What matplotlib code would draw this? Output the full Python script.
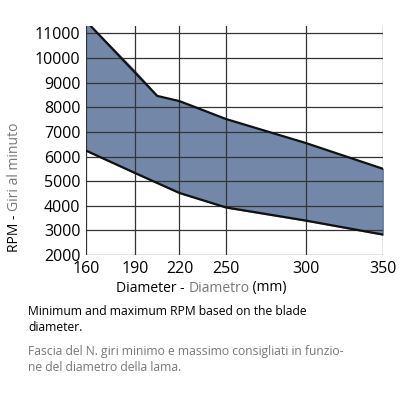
import matplotlib
matplotlib.use('Agg')
import matplotlib.pyplot as plt
import numpy as np

plt.rcParams['font.family'] = ['Open Sans', 'DejaVu Sans']

# tick values and where they sit on the (non-linear) axis
x_ticks = [160, 190, 220, 250, 300, 350]
x_tick_pos = [258, 405, 538, 678, 916, 1148]

upper_d = [160, 205, 220, 250, 300, 350]
upper_rpm = [11500, 8460, 8250, 7520, 6550, 5500]
lower_d = [160, 190, 220, 250, 300, 350]
lower_rpm = [6240, 5330, 4520, 3930, 3400, 2830]

y_ticks = list(range(2000, 12000, 1000))

GRAY = '#777777'


def to_pos(d):
    return np.interp(d, x_ticks, x_tick_pos)


fig = plt.figure(figsize=(4, 4), dpi=100)
ax = fig.add_axes([0.215, 0.3625, 0.7425, 0.5725])

common = np.union1d(upper_d, lower_d)
up = np.interp(common, upper_d, upper_rpm)
lo = np.interp(common, lower_d, lower_rpm)
ax.fill_between(to_pos(common), lo, up, color='#7388a9', zorder=1)
ax.plot(to_pos(upper_d), upper_rpm, color='#111111', lw=1.6, zorder=3)
ax.plot(to_pos(lower_d), lower_rpm, color='#111111', lw=1.6, zorder=3)

ax.set_xlim(x_tick_pos[0], x_tick_pos[-1])
ax.set_ylim(2000, 11300)
ax.set_xticks(x_tick_pos, [str(t) for t in x_ticks])
ax.set_yticks(y_ticks)
ax.grid(True, color='#333333', lw=0.9, zorder=2)
ax.set_axisbelow(False)
for s in ax.spines.values():
    s.set_visible(False)
ax.tick_params(length=0, labelsize=11.5, pad=4)

# x label: black / gray / black pieces chained together
t1 = fig.text(0.29, 0.28, 'Diameter - ', ha='left', va='center', fontsize=10)
t2 = ax.annotate('Diametro', xy=(1, 0), xycoords=t1, ha='left', va='bottom',
                 fontsize=10, color=GRAY)
ax.annotate(' (mm)', xy=(1, 0), xycoords=t2, ha='left', va='bottom', fontsize=10)

# y label, rotated, same trick going upward
y1 = fig.text(0.035, 0.37, 'RPM - ', rotation=90, ha='center', va='bottom', fontsize=10)
ax.annotate('Giri al minuto', xy=(0, 1), xycoords=y1, rotation=90, ha='left',
            va='bottom', fontsize=10, color=GRAY)

fig.text(0.07, 0.2375, 'Minimum and maximum RPM based on the blade\ndiameter.',
         ha='left', va='top', fontsize=8.7, linespacing=1.3)
fig.text(0.07, 0.1375, 'Fascia del N. giri minimo e massimo consigliati in funzio-\nne del diametro della lama.',
         ha='left', va='top', fontsize=8.7, linespacing=1.3, color=GRAY)

fig.savefig('out.png', dpi=100, facecolor='white')
